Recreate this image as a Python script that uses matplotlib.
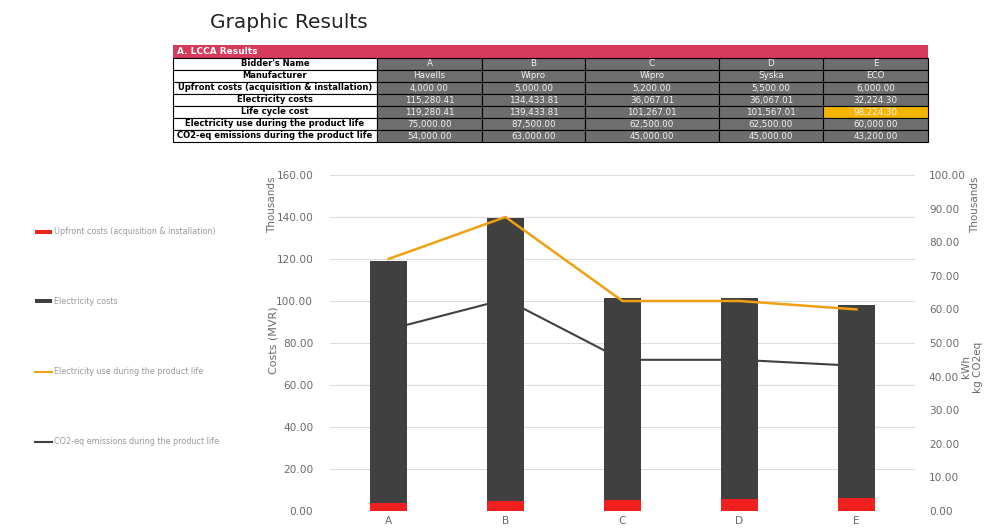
import numpy as np
import matplotlib
matplotlib.use("Agg")
import matplotlib.pyplot as plt
from matplotlib.patches import Rectangle

# table data
row_labels = ["Bidder's Name", "Manufacturer", "Upfront costs (acquisition & installation)",
              "Electricity costs", "Life cycle cost",
              "Electricity use during the product life", "CO2-eq emissions during the product life"]
bidders = ["A", "B", "C", "D", "E"]
manufacturers = ["Havells", "Wipro", "Wipro", "Syska", "ECO"]
upfront_tbl = ["4,000.00", "5,000.00", "5,200.00", "5,500.00", "6,000.00"]
elec_cost_tbl = ["115,280.41", "134,433.81", "36,067.01", "36,067.01", "32,224.30"]
lcc_tbl = ["119,280.41", "139,433.81", "101,267.01", "101,567.01", "98,224.30"]
elec_use_tbl = ["75,000.00", "87,500.00", "62,500.00", "62,500.00", "60,000.00"]
co2_tbl = ["54,000.00", "63,000.00", "45,000.00", "45,000.00", "43,200.00"]

# chart data (thousands)
upfront = [4.0, 5.0, 5.2, 5.5, 6.0]
elec_cost = [115.28041, 134.43381, 96.06701, 96.06701, 92.2243]
elec_use = [75.0, 87.5, 62.5, 62.5, 60.0]
co2 = [54.0, 63.0, 45.0, 45.0, 43.2]
legend_labels = ["Upfront costs (acquisition & installation)", "Electricity costs",
                 "Electricity use during the product life", "CO2-eq emissions during the product life"]

RED = "#f0201e"
DARK = "#404040"
ORANGE = "#f0a010"
GRAY_TXT = "#6a6a6a"

fig = plt.figure(figsize=(9.92, 5.32), dpi=100)

# overlay in pixel coords for title, table, legend
ov = fig.add_axes([0, 0, 1, 1])
ov.set_xlim(0, 992)
ov.set_ylim(532, 0)
ov.axis("off")

ov.text(210, 22, "Graphic Results", fontsize=14.5, va="center", ha="left", color="#222222")

# table header bar
ov.add_patch(Rectangle((173, 45), 755, 13, facecolor="#d63a5c", edgecolor="none"))
ov.text(177, 51.5, "A. LCCA Results", fontsize=6.5, fontweight="bold", color="white", va="center")

col_edges = [173, 377, 482, 585, 719, 823, 928]
row_top = 58
row_h = 12
cols = [bidders, manufacturers, upfront_tbl, elec_cost_tbl, lcc_tbl, elec_use_tbl, co2_tbl]
for r, lab in enumerate(row_labels):
    y = row_top + r * row_h
    ov.add_patch(Rectangle((col_edges[0], y), col_edges[1] - col_edges[0], row_h,
                           facecolor="white", edgecolor="black", lw=0.8))
    ov.text((col_edges[0] + col_edges[1]) / 2, y + row_h / 2, lab, fontsize=6,
            fontweight="bold", ha="center", va="center", color="black")
    for c in range(5):
        x0, x1 = col_edges[c + 1], col_edges[c + 2]
        fc = "#6e6e6e"
        if r == 4 and c == 4:
            fc = "#f5b400"
        ov.add_patch(Rectangle((x0, y), x1 - x0, row_h, facecolor=fc, edgecolor="black", lw=0.8))
        ov.text((x0 + x1) / 2, y + row_h / 2, cols[r][c], fontsize=6.3,
                ha="center", va="center", color="#f0f0f0")

# legend on the left
leg_y = [232, 301, 372, 442]
for i, (lab, yy) in enumerate(zip(legend_labels, leg_y)):
    if i < 2:
        ov.add_patch(Rectangle((35, yy - 2), 17, 4, facecolor=[RED, DARK][i], edgecolor="none"))
    else:
        ov.plot([35, 52], [yy, yy], color=[ORANGE, DARK][i - 2], lw=1.5)
    ov.text(54, yy, lab, fontsize=5.8, color="#999999", va="center", ha="left")

# main chart
ax = fig.add_axes([330 / 992, 1 - 511 / 532, 585 / 992, 336 / 532])
x = np.arange(len(bidders))
w = 0.31
ax.bar(x, upfront, w, color=RED, zorder=2)
ax.bar(x, elec_cost, w, bottom=upfront, color=DARK, zorder=2)
ax.set_xlim(-0.5, 4.5)
ax.set_ylim(0, 160)
ax.set_yticks(np.arange(0, 161, 20))
ax.set_yticklabels([f"{v:.2f}" for v in np.arange(0, 161, 20)])
ax.set_xticks(x)
ax.set_xticklabels(bidders)
ax.grid(axis="y", color="#dcdcdc", lw=0.8, zorder=0)
for s in ax.spines.values():
    s.set_visible(False)
ax.tick_params(length=0, colors=GRAY_TXT, labelsize=7.6)
ax.tick_params(axis="y", pad=12)

ax2 = ax.twinx()
ax2.plot(x, elec_use, color=ORANGE, lw=1.8, zorder=3)
ax2.plot(x, co2, color=DARK, lw=1.5, zorder=3)
ax2.set_ylim(0, 100)
ax2.set_yticks(np.arange(0, 101, 10))
ax2.set_yticklabels([f"{v:.2f}" for v in np.arange(0, 101, 10)])
for s in ax2.spines.values():
    s.set_visible(False)
ax2.tick_params(length=0, colors=GRAY_TXT, labelsize=7.6, pad=10)

# axis titles
fig.text(274 / 992, 1 - 340 / 532, "Costs (MVR)", rotation=90, fontsize=8, color=GRAY_TXT,
         ha="center", va="center")
fig.text(272 / 992, 1 - 205 / 532, "Thousands", rotation=90, fontsize=7.5, color=GRAY_TXT,
         ha="center", va="center")
fig.text(975 / 992, 1 - 205 / 532, "Thousands", rotation=90, fontsize=7.5, color=GRAY_TXT,
         ha="center", va="center")
fig.text(966 / 992, 1 - 367 / 532, "kWh", rotation=90, fontsize=7.5, color=GRAY_TXT,
         ha="center", va="center")
fig.text(978 / 992, 1 - 367 / 532, "kg CO2eq", rotation=90, fontsize=7.5, color=GRAY_TXT,
         ha="center", va="center")

fig.savefig("out.png", dpi=100)
